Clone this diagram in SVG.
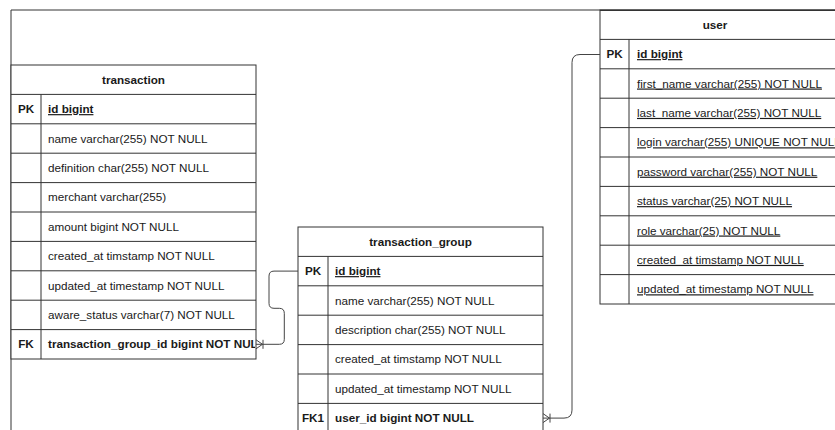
<svg xmlns="http://www.w3.org/2000/svg" width="835" height="430" viewBox="0 0 835 430">
<style>
.frame{fill:none;stroke:#333;stroke-width:1}
.tbl{fill:#fff;stroke:#333;stroke-width:1}
.ln{stroke:#333;stroke-width:1;fill:none}
.conn{fill:none;stroke:#444;stroke-width:1}
text{font-family:"Liberation Sans",Arial,Helvetica,sans-serif;font-size:11.7px;fill:#1a1a1a}
.h{font-weight:bold;text-anchor:middle}
.k{font-weight:bold;text-anchor:middle}
.b{font-weight:bold}
.u{text-decoration:underline}
</style>
<defs>
<marker id="oneMany" viewBox="-10 -6 12 12" refX="0" refY="0" markerWidth="12" markerHeight="12" markerUnits="userSpaceOnUse" orient="auto">
<path d="M0,-4.5 L-6.5,0 L0,4.5 M-7,-4.5 V4.5" fill="none" stroke="#444" stroke-width="1"/>
</marker>
<clipPath id="clipT"><rect x="11" y="65" width="244" height="294"/></clipPath>
</defs>
<path class="frame" d="M11,430 V10 H835"/>
<g id="transaction">
<rect class="tbl" x="11" y="65" width="245" height="294"/>
<path class="ln" d="M11,94.4 H256 M11,123.8 H256 M11,153.2 H256 M11,182.6 H256 M11,212 H256 M11,241.4 H256 M11,270.8 H256 M11,300.2 H256 M11,329.6 H256 M41,94.4 V359"/>
<text class="h" x="133.5" y="83.7">transaction</text>
<text class="k" x="26" y="113.1">PK</text>
<text class="b u" x="48" y="113.1">id bigint</text>
<text x="48" y="142.5">name varchar(255) NOT NULL</text>
<text x="48" y="171.9">definition char(255) NOT NULL</text>
<text x="48" y="201.3">merchant varchar(255)</text>
<text x="48" y="230.7">amount bigint NOT NULL</text>
<text x="48" y="260.1">created_at timstamp NOT NULL</text>
<text x="48" y="289.5">updated_at timestamp NOT NULL</text>
<text x="48" y="318.9">aware_status varchar(7) NOT NULL</text>
<text class="k" x="26" y="348.3">FK</text>
<text class="b" x="48" y="348.3" clip-path="url(#clipT)">transaction_group_id bigint NOT NULL</text>
</g>
<g id="transaction_group">
<rect class="tbl" x="298" y="227" width="245" height="210"/>
<path class="ln" d="M298,256.4 H543 M298,285.8 H543 M298,315.2 H543 M298,344.6 H543 M298,374 H543 M298,403.4 H543 M328,256.4 V437"/>
<text class="h" x="420.5" y="245.7">transaction_group</text>
<text class="k" x="313" y="275.1">PK</text>
<text class="b u" x="335" y="275.1">id bigint</text>
<text x="335" y="304.5">name varchar(255) NOT NULL</text>
<text x="335" y="333.9">description char(255) NOT NULL</text>
<text x="335" y="363.3">created_at timstamp NOT NULL</text>
<text x="335" y="392.7">updated_at timestamp NOT NULL</text>
<text class="k" x="313" y="422.1">FK1</text>
<text class="b" x="335" y="422.1">user_id bigint NOT NULL</text>
</g>
<g id="user">
<rect class="tbl" x="600" y="10" width="245" height="294"/>
<path class="ln" d="M600,10.5 H845" stroke-width="1.5"/>
<path class="ln" d="M600,39.4 H845 M600,68.8 H845 M600,98.2 H845 M600,127.6 H845 M600,157 H845 M600,186.4 H845 M600,215.8 H845 M600,245.2 H845 M600,274.6 H845 M629,39.4 V304"/>
<text class="h" x="715" y="28.7">user</text>
<text class="k" x="614.5" y="58.1">PK</text>
<text class="b u" x="637" y="58.1">id bigint</text>
<text class="u" x="637" y="87.5">first_name varchar(255) NOT NULL</text>
<text class="u" x="637" y="116.9">last_name varchar(255) NOT NULL</text>
<text class="u" x="637" y="146.3">login varchar(255) UNIQUE NOT NULL</text>
<text class="u" x="637" y="175.7">password varchar(255) NOT NULL</text>
<text class="u" x="637" y="205.1">status varchar(25) NOT NULL</text>
<text class="u" x="637" y="234.5">role varchar(25) NOT NULL</text>
<text class="u" x="637" y="263.9">created_at timstamp NOT NULL</text>
<text class="u" x="637" y="293.3">updated_at timestamp NOT NULL</text>
</g>
<g id="connectors">
<path class="conn" d="M298,271.1 H274 Q269,271.1 269,276.1 V303.3 Q269,308.3 274,308.3 H279.3 Q284.3,308.3 284.3,313.3 V339.3 Q284.3,344.3 279.3,344.3 H256" marker-end="url(#oneMany)"/>
<path class="conn" d="M600,54.5 H580 Q572,54.5 572,62.5 V410.1 Q572,418.1 564,418.1 H543" marker-end="url(#oneMany)"/>
</g>
</svg>
